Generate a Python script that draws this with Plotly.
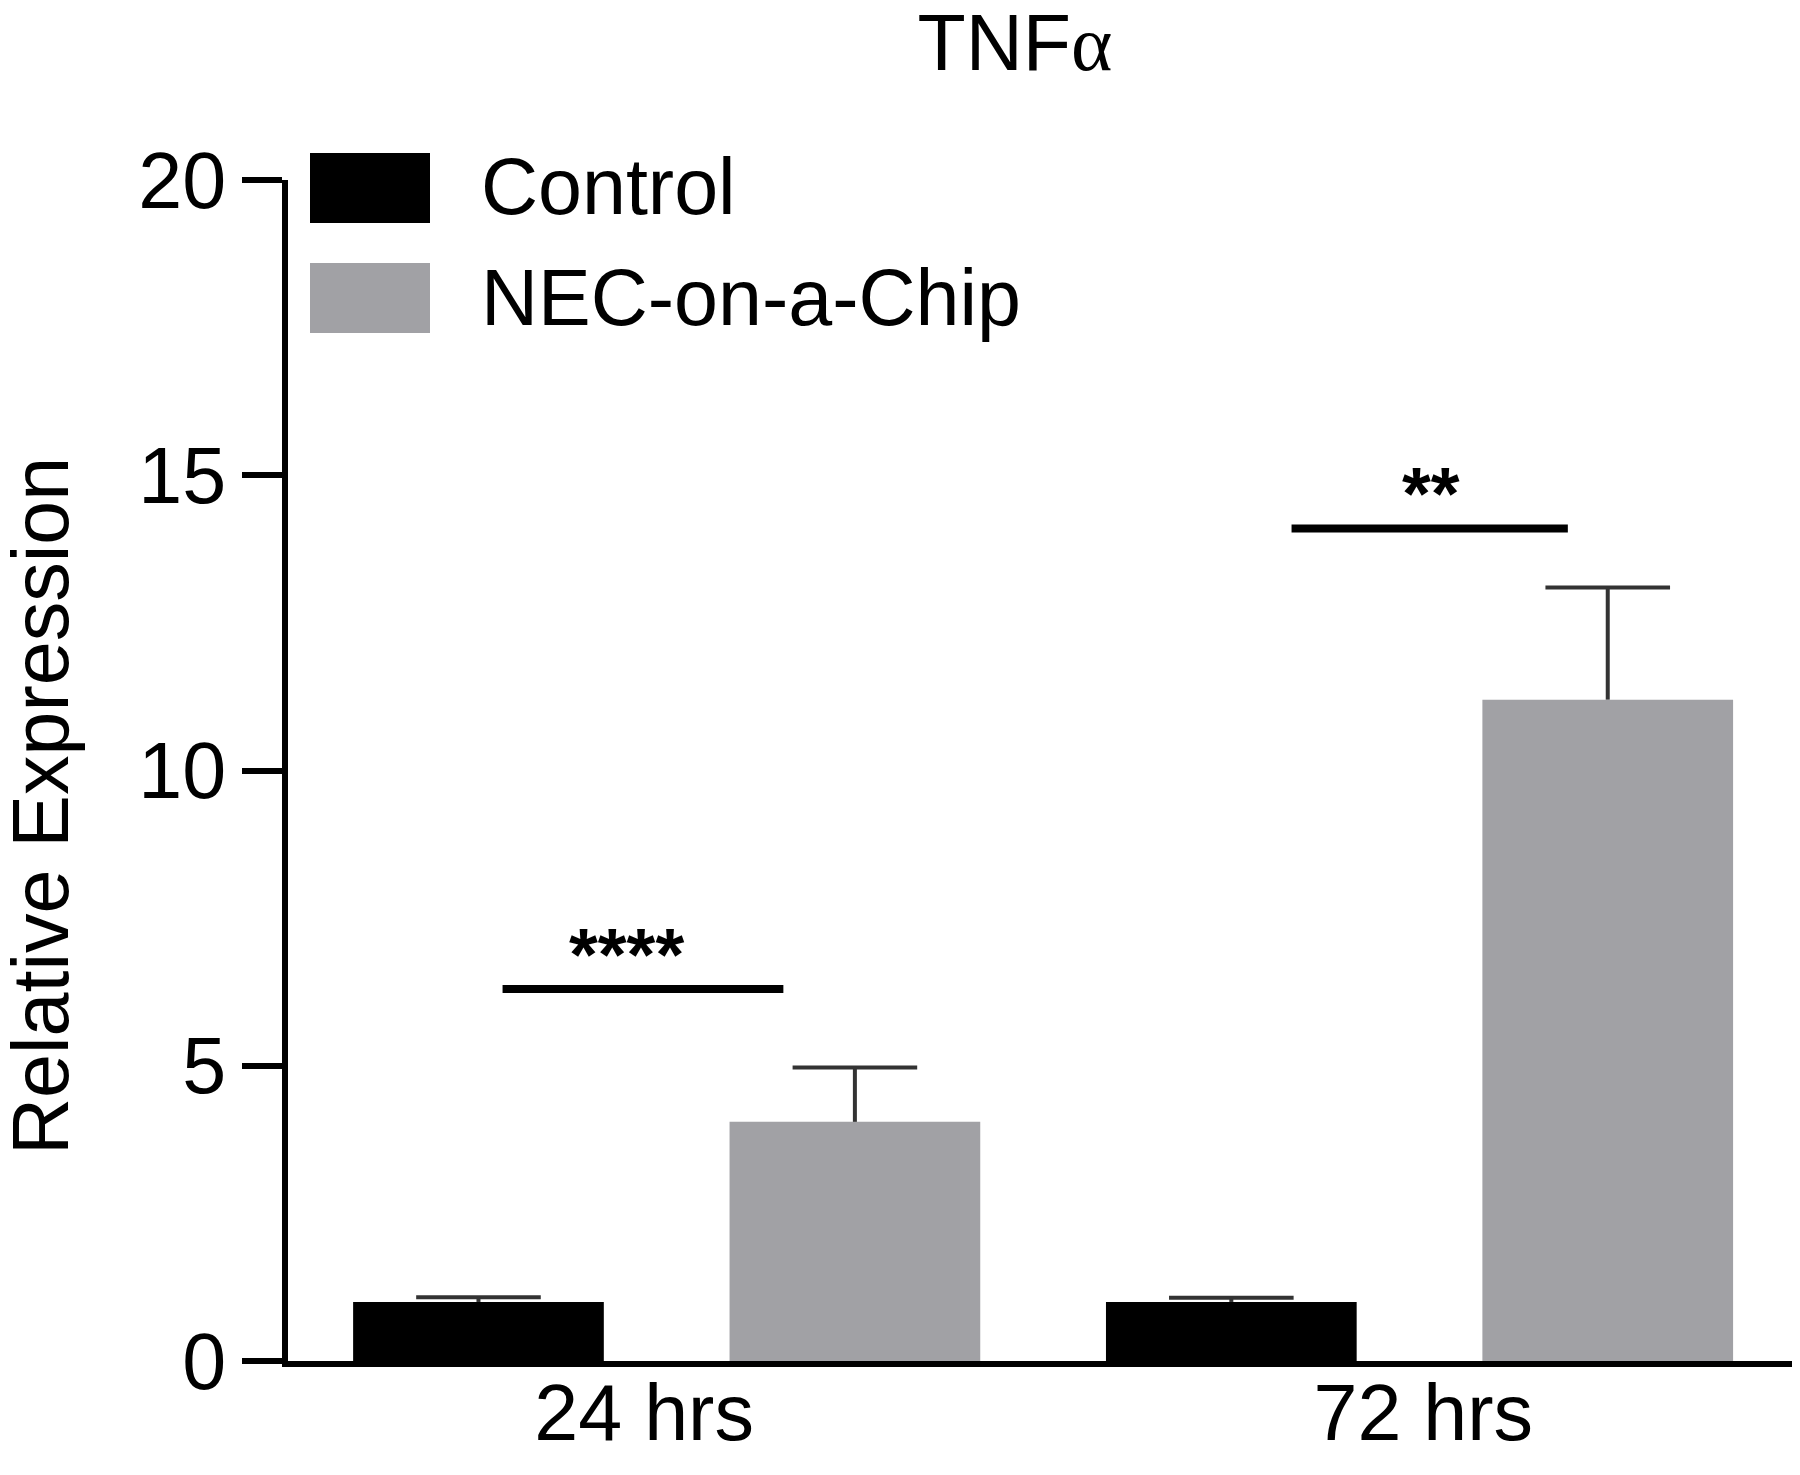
"""
TNFa relative expression bar chart (Control vs NEC-on-a-Chip)
"""
import plotly.graph_objects as go

# data
categories = ["24 hrs", "72 hrs"]
series_names = ["Control", "NEC-on-a-Chip"]
control_mean = [1.0, 1.0]
control_sem = [0.08, 0.07]
nec_mean = [4.05, 11.2]
nec_sem = [0.92, 1.9]
sig_labels = ["****", "**"]
sig_height = [6.3, 14.1]
y_ticks = [0, 5, 10, 15, 20]

colors = ["#000000", "#a1a1a5"]
ERR_COLOR = '#333333'
FONT = "Liberation Sans, Arial, Helvetica, sans-serif"
FS = 79

# plot area in pixels (figure is 1800 x 1475)
W, H = 1800, 1475
L, R, T, B = 280, 1800, 172, 1353


def px(x):
    return (x - L) / (R - L)


def py(y):
    return (B - y) / (B - T)


idx = list(range(len(categories)))
offsets = [-0.25, 0.25]   # bar position inside each group
bar_w = 0.333

fig = go.Figure()

for name, mean, sem, color, off in zip(series_names, [control_mean, nec_mean],
                                       [control_sem, nec_sem], colors, offsets):
    xs = [i + off for i in idx]
    fig.add_trace(go.Bar(
        x=xs, y=mean, width=bar_w, name=name,
        marker=dict(color=color, line=dict(width=0)),
        showlegend=False, hoverinfo='y'
    ))
    # upper error bar only: stem from the bar top, cap drawn as a marker
    tops = [m + s for m, s in zip(mean, sem)]
    fig.add_trace(go.Scatter(
        x=xs, y=tops, mode='markers',
        marker=dict(symbol='line-ew', size=89, color=ERR_COLOR,
                    line=dict(color=ERR_COLOR, width=4)),
        error_y=dict(type='data', symmetric=False, array=[0] * len(sem),
                     arrayminus=sem, width=0, thickness=4, color=ERR_COLOR),
        showlegend=False, hoverinfo='skip'
    ))

# significance bars + stars
sig_x0 = [-0.218, -0.17]
sig_x1 = [0.155, 0.197]
star_dx = [-0.054, 0.015]
for i, (lab, h) in enumerate(zip(sig_labels, sig_height)):
    fig.add_shape(type='line', xref='x', yref='y',
                  x0=i + sig_x0[i], x1=i + sig_x1[i], y0=h, y1=h,
                  line=dict(color='black', width=8))
    fig.add_annotation(x=i + star_dx[i], y=h, xref='x', yref='y',
                       text='<b>' + lab + '</b>', showarrow=False, yanchor='bottom',
                       yshift=-9, font=dict(family=FONT, size=74, color='black'))

# custom legend with large swatches
legend_rows = [180, 290]
for name, color, yc in zip(series_names, colors, legend_rows):
    fig.add_shape(type='rect', xref='paper', yref='paper',
                  x0=px(302), x1=px(422), y0=py(yc - 35), y1=py(yc + 35),
                  fillcolor=color, line=dict(width=0))
    fig.add_annotation(x=px(471), y=py(yc - 1), xref='paper', yref='paper',
                       text=name, showarrow=False, xanchor='left', yanchor='middle',
                       font=dict(family=FONT, size=FS, color='black'))

# y axis title
fig.add_annotation(x=px(32), y=py(798), xref='paper', yref='paper',
                   text='Relative Expression', showarrow=False, textangle=-90,
                   xanchor='center', yanchor='middle',
                   font=dict(family=FONT, size=FS, color='black'))

fig.update_layout(
    width=W, height=H,
    barmode='overlay',
    plot_bgcolor='white',
    paper_bgcolor='white',
    margin=dict(l=L, r=W - R, t=T, b=H - B),
    title=dict(
        text="TNF<span style='font-family:Liberation Serif, serif'>α</span>",
        xref='paper', x=px(1007), xanchor='center',
        yref='container', y=1 - 7 / H, yanchor='top',
        font=dict(family=FONT, size=FS, color='black')
    ),
    xaxis=dict(
        range=[-0.503, 1.516],
        tickvals=[-0.03, 1.005], ticktext=categories,
        showline=True, linecolor='black', linewidth=6,
        ticks='', showgrid=False, zeroline=False,
        ticklabelstandoff=-22,
        tickfont=dict(family=FONT, size=FS, color='black'),
    ),
    yaxis=dict(
        range=[0, 20],
        tickvals=y_ticks,
        showline=True, linecolor='black', linewidth=6,
        ticks='outside', ticklen=40, tickwidth=6, tickcolor='black',
        showgrid=False, zeroline=False,
        tickfont=dict(family=FONT, size=FS, color='black'),
    ),
)

fig.write_html("out.html")
